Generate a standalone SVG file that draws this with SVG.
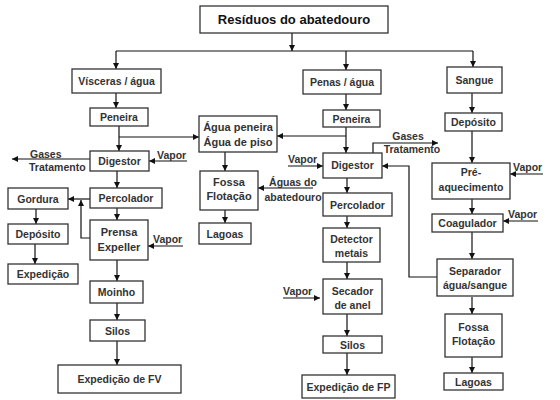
<svg xmlns="http://www.w3.org/2000/svg" width="560" height="400" viewBox="0 0 560 400">
<defs>
<marker id="a" markerWidth="6" markerHeight="6" refX="6" refY="3" orient="auto" markerUnits="userSpaceOnUse"><path d="M0,0 L6,3 L0,6 z" fill="#111"/></marker>
<style>
rect{fill:#fff;stroke:#333;stroke-width:1.3}
text{font-family:"Liberation Sans",Arial,sans-serif;font-weight:bold;font-size:10.5px;fill:#333;text-anchor:middle}
.t{font-size:13px;fill:#111}
.l{text-anchor:start}
.b{font-size:11px}
#c path{fill:none;stroke:#111;stroke-width:1.2}
#c path.m{marker-end:url(#a)}
</style>
</defs>
<rect width="560" height="400" style="fill:#fff;stroke:none"/>
<g id="c">
<path class="m" d="M292,33 V51"/>
<path d="M116,51 H473"/>
<path class="m" d="M116,51 V69"/>
<path class="m" d="M346,51 V70"/>
<path class="m" d="M473,51 V67"/>
<path class="m" d="M116,93 V108"/>
<path class="m" d="M119,126 V151"/>
<path class="m" d="M119,137 H199"/>
<path class="m" d="M346,94 V110"/>
<path class="m" d="M346,127 V153"/>
<path class="m" d="M346,136 H277"/>
<path class="m" d="M225,152 V171"/>
<path class="m" d="M225,210 V223"/>
<path class="m" d="M313,188 H258"/>
<path class="m" d="M90,159 H12"/>
<path class="m" d="M187,161 H149"/>
<path class="m" d="M117,171 V188"/>
<path class="m" d="M117,208 V220"/>
<path class="m" d="M90,199 H68"/>
<path class="m" d="M90,238 H81 V200"/>
<path class="m" d="M183,246 H148"/>
<path class="m" d="M36,209 V224"/>
<path class="m" d="M35,244 V264"/>
<path class="m" d="M117,260 V281"/>
<path class="m" d="M117,303 V320"/>
<path class="m" d="M117,341 V365"/>
<path class="m" d="M288,166 H323"/>
<path class="m" d="M373,153 V143 H438"/>
<path class="m" d="M437,277 H409 V166 H382"/>
<path class="m" d="M347,178 V193"/>
<path class="m" d="M347,216 V228"/>
<path class="m" d="M347,262 V279"/>
<path class="m" d="M283,298 H320"/>
<path class="m" d="M347,314 V336"/>
<path class="m" d="M347,353 V375"/>
<path class="m" d="M472,93 V113"/>
<path class="m" d="M472,131 V163"/>
<path class="m" d="M543,174 H510"/>
<path class="m" d="M472,199 V214"/>
<path class="m" d="M538,221 H503"/>
<path class="m" d="M472,232 V259"/>
<path class="m" d="M472,297 V314"/>
<path class="m" d="M472,357 V373"/>
</g>
<g id="title"><rect x="200" y="6" width="188" height="27"/><text class="t" x="294" y="24">Resíduos do abatedouro</text></g>
<g id="visceras"><rect x="72" y="69" width="89" height="24"/><text x="116.5" y="85">Vísceras / água</text></g>
<g id="peneira1"><rect x="90" y="108" width="58" height="18"/><text x="119" y="121">Peneira</text></g>
<g id="digestor1"><rect x="90" y="151" width="59" height="20"/><text x="119.5" y="165">Digestor</text></g>
<g id="gases1"><text class="l" x="30" y="158">Gases</text><text class="l" x="29" y="171">Tratamento</text></g>
<g id="vapor1"><text class="l" x="157" y="159">Vapor</text></g>
<g id="percolador1"><rect x="90" y="188" width="72" height="20"/><text x="126" y="202">Percolador</text></g>
<g id="gordura"><rect x="8" y="188" width="60" height="21"/><text x="38" y="202.5">Gordura</text></g>
<g id="deposito1"><rect x="8" y="224" width="60" height="20"/><text x="38" y="238">Depósito</text></g>
<g id="expedicao1"><rect x="8" y="264" width="70" height="20"/><text x="43" y="278">Expedição</text></g>
<g id="prensa"><rect x="90" y="220" width="58" height="40"/><text class="b" x="119" y="236">Prensa</text><text class="b" x="119" y="251">Expeller</text></g>
<g id="vapor2"><text class="l" x="153" y="243">Vapor</text></g>
<g id="moinho"><rect x="90" y="281" width="53" height="22"/><text x="116.5" y="296">Moinho</text></g>
<g id="silos1"><rect x="90" y="320" width="55" height="21"/><text x="117.5" y="334.5">Silos</text></g>
<g id="expfv"><rect x="58" y="365" width="123" height="28"/><text x="119.5" y="383">Expedição de FV</text></g>
<g id="agua"><rect x="199" y="116" width="78" height="36"/><text class="b" x="238" y="131">Água peneira</text><text class="b" x="238" y="146">Água de piso</text></g>
<g id="fossa1"><rect x="200" y="171" width="58" height="39"/><text class="b" x="229" y="186">Fossa</text><text class="b" x="229" y="200">Flotação</text></g>
<g id="aguas"><text x="293" y="186">Águas do</text><text x="293" y="201">abatedouro</text></g>
<g id="lagoas1"><rect x="199" y="223" width="52" height="21"/><text x="225" y="237.5">Lagoas</text></g>
<g id="penas"><rect x="303" y="70" width="78" height="24"/><text x="342" y="86">Penas / água</text></g>
<g id="peneira2"><rect x="323" y="110" width="57" height="17"/><text x="351.5" y="122.5">Peneira</text></g>
<g id="digestor2"><rect x="323" y="153" width="59" height="25"/><text x="352.5" y="169">Digestor</text></g>
<g id="vapor3"><text class="l" x="288" y="163">Vapor</text></g>
<g id="gases2"><text x="408" y="140">Gases</text><text x="412" y="153">Tratamento</text></g>
<g id="percolador2"><rect x="323" y="193" width="69" height="23"/><text x="357.5" y="208.5">Percolador</text></g>
<g id="detector"><rect x="323" y="228" width="57" height="34"/><text x="351.5" y="243">Detector</text><text x="351.5" y="257">metais</text></g>
<g id="secador"><rect x="323" y="279" width="59" height="35"/><text x="352.5" y="295">Secador</text><text x="352.5" y="309">de anel</text></g>
<g id="vapor4"><text class="l" x="283" y="295">Vapor</text></g>
<g id="silos2"><rect x="323" y="336" width="59" height="17"/><text x="352.5" y="348.5">Silos</text></g>
<g id="expfp"><rect x="302" y="375" width="93" height="23"/><text x="348.5" y="390.5">Expedição de FP</text></g>
<g id="sangue"><rect x="447" y="67" width="55" height="26"/><text x="474.5" y="84">Sangue</text></g>
<g id="deposito2"><rect x="445" y="113" width="57" height="18"/><text x="473.5" y="126">Depósito</text></g>
<g id="pre"><rect x="432" y="163" width="78" height="36"/><text x="471" y="176">Pré-</text><text x="471" y="191">aquecimento</text></g>
<g id="vapor5"><text class="l" x="513" y="171">Vapor</text></g>
<g id="coagulador"><rect x="432" y="214" width="71" height="18"/><text x="467.5" y="227">Coagulador</text></g>
<g id="vapor6"><text class="l" x="508" y="218">Vapor</text></g>
<g id="separador"><rect x="437" y="259" width="76" height="37"/><text x="475" y="275">Separador</text><text x="475" y="289">água/sangue</text></g>
<g id="fossa2"><rect x="445" y="314" width="57" height="43"/><text x="473.5" y="331">Fossa</text><text x="473.5" y="345">Flotação</text></g>
<g id="lagoas2"><rect x="444" y="373" width="59" height="17"/><text x="473.5" y="385.5">Lagoas</text></g>
</svg>
